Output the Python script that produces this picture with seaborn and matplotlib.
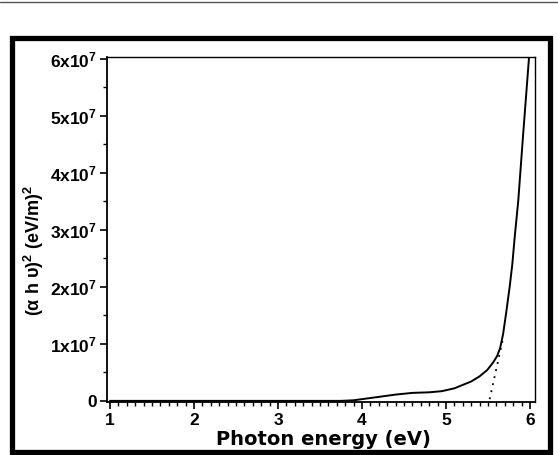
import numpy as np
import pandas as pd
import matplotlib
matplotlib.use("Agg")
import matplotlib.pyplot as plt
from matplotlib.ticker import MultipleLocator, FixedLocator
from matplotlib.patches import Rectangle
from matplotlib.lines import Line2D
import seaborn as sns

# ---- data ----
energy = [1.0, 2.0, 3.0, 3.75, 3.9, 4.0, 4.2, 4.4, 4.6, 4.8, 4.95, 5.1, 5.2, 5.3,
          5.4, 5.49, 5.56, 5.61, 5.645, 5.68, 5.72, 5.76, 5.79, 5.82, 5.86, 5.92, 5.99]
alpha_hv_sq = [0.0, 0.0, 0.0, 0.0, 0.01, 0.03, 0.07, 0.11, 0.14, 0.15, 0.17, 0.22, 0.28, 0.34,
               0.43, 0.54, 0.67, 0.79, 0.93, 1.17, 1.58, 2.02, 2.4, 2.9, 3.5, 4.7, 6.05]  # x1e7
tangent_energy = [5.52, 5.68]
tangent_value = [0.03, 1.10]  # x1e7
ytick_vals = [0, 1, 2, 3, 4, 5, 6]
ytick_labels = ["0", "1x10$^7$", "2x10$^7$", "3x10$^7$", "4x10$^7$", "5x10$^7$", "6x10$^7$"]
xtick_vals = [1, 2, 3, 4, 5, 6]

sns.set_theme(style="ticks")
plt.rcParams["font.family"] = ["Liberation Sans", "DejaVu Sans"]
plt.rcParams["font.weight"] = "bold"
plt.rcParams["mathtext.default"] = "regular"

df = pd.DataFrame({"E": energy, "v": np.array(alpha_hv_sq) * 1e7})
tg = pd.DataFrame({"E": tangent_energy, "v": np.array(tangent_value) * 1e7})

fig = plt.figure(figsize=(5.58, 4.55), dpi=100)
fig.patch.set_facecolor("white")
ax = fig.add_axes([107/558, 1 - 402/455, 428/558, (402 - 57)/455])

sns.lineplot(data=df, x="E", y="v", ax=ax, color="black", linewidth=1.4, sort=False)
sns.lineplot(data=tg, x="E", y="v", ax=ax, color="black", linewidth=1.3,
             linestyle=(0, (1, 3)), sort=False)

ax.set_xlim(0.964, 6.06)
ax.set_ylim(-0.02e7, 6.035e7)
ax.set_xticks(xtick_vals)
ax.set_xticklabels([str(v) for v in xtick_vals])
ax.xaxis.set_minor_locator(MultipleLocator(0.1))
ax.set_yticks([v * 1e7 for v in ytick_vals])
ax.set_yticklabels(ytick_labels)
ax.yaxis.set_minor_locator(FixedLocator([v * 1e7 + 0.5e7 for v in ytick_vals[:-1]]))

ax.tick_params(axis="both", which="major", direction="out", length=5, width=1.2,
               color="black", labelsize=12.5, pad=2, labelcolor="black")
ax.tick_params(axis="both", which="minor", direction="out", length=3, width=1.0, color="black")
ax.tick_params(axis="x", which="major", pad=3)
for lab in ax.get_xticklabels() + ax.get_yticklabels():
    lab.set_fontweight("bold")

for side, sp in ax.spines.items():
    sp.set_visible(True)
    sp.set_color("black")
    sp.set_linewidth(1.0)
ax.spines["left"].set_linewidth(1.3)
ax.spines["bottom"].set_linewidth(1.3)

ax.set_xlabel("Photon energy (eV)", fontsize=14, fontweight="bold", color="black",
              family=["DejaVu Sans"])
ax.xaxis.set_label_coords(0.505, -0.082)
ax.xaxis.label.set_verticalalignment("top")
ax.set_ylabel("(α h υ)$^2$ (eV/m)$^2$", fontsize=13, fontweight="bold", color="black")
ax.yaxis.set_label_coords(-0.142, 0.44)

# outer frame of the scanned figure
fig.patches.append(Rectangle((12/558, 1 - 452/455), (550 - 12)/558, (452 - 38)/455,
                             transform=fig.transFigure, fill=False, edgecolor="black",
                             linewidth=3.8))
fig.lines.append(Line2D([0, 1], [1 - 2/455, 1 - 2/455], transform=fig.transFigure,
                        color="#555555", linewidth=1.0))

fig.savefig("out.png", dpi=100, facecolor="white")
